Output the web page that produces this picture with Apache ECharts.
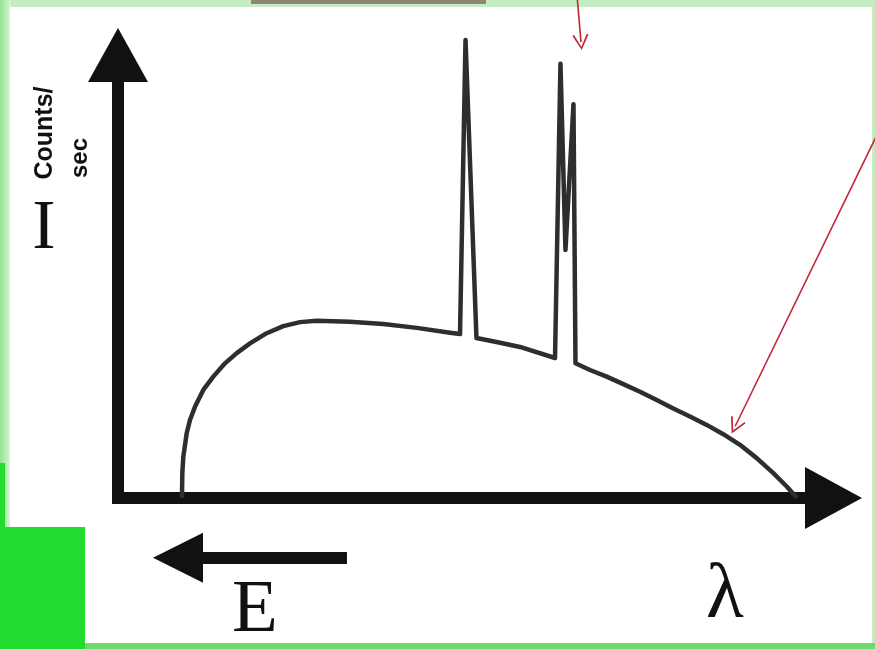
<!DOCTYPE html>
<html>
<head>
<meta charset="utf-8">
<style>
  html, body { margin: 0; padding: 0; background: #c6ecc2; }
  #chart { width: 875px; height: 649px; }
</style>
<script src="https://cdn.jsdelivr.net/npm/echarts@6/dist/echarts.min.js"></script>
</head>
<body>
<div id="chart"></div>
<script>
// X-ray emission spectrum: continuum (bremsstrahlung) with characteristic lines.
// Wavelength in arbitrary units (0-100), intensity in arbitrary units (0-100).
const wavelength = [
  8.94, 8.99, 9.13, 9.60, 10.06, 10.76, 11.92, 13.32, 14.95, 16.59, 18.45,
  20.78, 23.10, 25.44, 27.77, 32.42, 37.08, 41.75, 46.40, 47.80,
  48.57,            // first characteristic line
  50.10, 53.24, 56.18, 61.08,
  61.84,            // doublet, first component
  62.54,
  63.66,            // doublet, second component
  63.94, 65.97, 68.30, 70.62, 72.96, 75.29, 77.61, 79.94, 82.28, 84.60,
  86.93, 89.27, 91.59, 93.46, 94.90
];
const intensity = [
  0, 5.6, 9.3, 14.6, 17.6, 20.6, 24.4, 27.4, 30.4, 32.7, 34.9,
  37.2, 38.8, 39.7, 40.0, 39.8, 39.3, 38.4, 37.3, 37.0,
  103.4,
  36.1, 35.1, 34.1, 31.6,
  98.0,
  56.0,
  88.9,
  30.4, 28.9, 27.4, 25.7, 24.0, 22.1, 20.2, 18.4, 16.5, 14.4,
  12.0, 9.0, 5.6, 2.6, 0
];

// Red pointer arrows (start, end) in the same data units
const pointerStart = [[64.15, 113.5], [106.2, 82.4]];
const pointerEnd   = [[64.71, 102.9], [86.26, 16.2]];

// "Energy increases to the left" arrow below the wavelength axis
const energyArrowStart = [32.0, -13.5];
const energyArrowEnd   = [8.39, -13.5];

const spectrum = wavelength.map((x, i) => [x, intensity[i]]);
const pointers = pointerStart.map((s, i) => ({ coords: [s, pointerEnd[i]] }));

const chevron = 'path://M5,0 L10,9 L9.1,9.7 L5,2.1 L0.9,9.7 L0,9 Z';

const chart = echarts.init(document.getElementById('chart'), null, { renderer: 'canvas' });

const axisCommon = {
  type: 'value',
  min: 0,
  max: 100,
  axisLabel: { show: false },
  axisTick: { show: false },
  splitLine: { show: false }
};

const serif = '"Liberation Serif", "Times New Roman", serif';
const sans = '"Liberation Sans", Arial, sans-serif';

chart.setOption({
  animation: false,
  backgroundColor: 'transparent',
  grid: { left: 118, right: 41.5, top: 55, bottom: 151, containLabel: false },
  xAxis: Object.assign({}, axisCommon, {
    axisLine: {
      show: true,
      onZero: false,
      symbol: ['none', 'triangle'],
      symbolSize: [62, 57],
      lineStyle: { color: '#111111', width: 12, cap: 'square' }
    }
  }),
  yAxis: Object.assign({}, axisCommon, {
    axisLine: {
      show: true,
      onZero: false,
      symbol: ['none', 'triangle'],
      symbolSize: [60, 54],
      lineStyle: { color: '#111111', width: 12, cap: 'square' }
    }
  }),
  graphic: [
    // page frame
    { type: 'rect', z: -10, silent: true, shape: { x: 0, y: 0, width: 875, height: 649 }, style: { fill: '#c6ecc2' } },
    {
      type: 'rect', z: -10, silent: true, shape: { x: 0, y: 0, width: 11, height: 649 },
      style: { fill: new echarts.graphic.LinearGradient(0, 0, 1, 0, [
        { offset: 0, color: '#93e28e' }, { offset: 1, color: '#dcf6da' }
      ]) }
    },
    { type: 'rect', z: -9, silent: true, shape: { x: 10, y: 7, width: 862, height: 636 }, style: { fill: '#ffffff' } },
    { type: 'rect', z: -9, silent: true, shape: { x: 0, y: 643, width: 875, height: 6 }, style: { fill: '#6fd96b' } },
    { type: 'rect', z: -8, silent: true, shape: { x: 251, y: 0, width: 235, height: 4 }, style: { fill: '#8c8875' } },
    { type: 'rect', z: -8, silent: true, shape: { x: 0, y: 463, width: 5, height: 65 }, style: { fill: '#24dc30' } },
    { type: 'rect', z: -8, silent: true, shape: { x: 0, y: 527, width: 85, height: 122 }, style: { fill: '#24dc30' } },
    // axis titles
    {
      type: 'text', silent: true, x: 44, y: 230,
      style: { text: 'I', font: '70px ' + serif, fill: '#111', align: 'center', verticalAlign: 'middle' }
    },
    {
      type: 'text', silent: true, x: 45, y: 133, rotation: Math.PI / 2,
      style: { text: 'Counts/', font: 'bold 25px ' + sans, fill: '#111', align: 'center', verticalAlign: 'middle' }
    },
    {
      type: 'text', silent: true, x: 80, y: 158, rotation: Math.PI / 2,
      style: { text: 'sec', font: 'bold 24px ' + sans, fill: '#111', align: 'center', verticalAlign: 'middle' }
    },
    {
      type: 'text', silent: true, x: 255, y: 611,
      style: { text: 'E', font: '75px ' + serif, fill: '#111', align: 'center', verticalAlign: 'middle' }
    },
    {
      type: 'text', silent: true, x: 725, y: 597,
      style: { text: 'λ', font: '78px ' + serif, fill: '#111', align: 'center', verticalAlign: 'middle' }
    }
  ],
  series: [
    {
      name: 'Spectrum',
      type: 'line',
      data: spectrum,
      showSymbol: false,
      clip: false,
      silent: true,
      lineStyle: { color: '#2e2e2e', width: 4.5, join: 'round' },
      z: 5
    },
    {
      name: 'Pointers',
      type: 'lines',
      coordinateSystem: 'cartesian2d',
      clip: false,
      silent: true,
      data: pointers,
      symbol: ['none', chevron],
      symbolSize: [20, 16],
      lineStyle: { color: '#c0283a', width: 1.6, opacity: 1, curveness: 0 },
      z: 6
    },
    {
      name: 'Energy',
      type: 'lines',
      coordinateSystem: 'cartesian2d',
      clip: false,
      silent: true,
      data: [{ coords: [energyArrowStart, energyArrowEnd] }],
      symbol: ['none', 'triangle'],
      symbolSize: [28, 50],
      lineStyle: { color: '#111111', width: 12, opacity: 1, curveness: 0 },
      z: 6
    }
  ]
});
</script>
</body>
</html>
